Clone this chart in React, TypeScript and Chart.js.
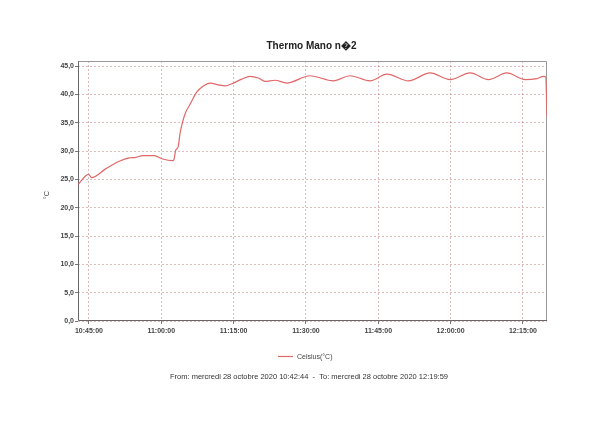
import React, { useEffect, useRef } from "react";
import { Chart, registerables } from "chart.js";

Chart.register(...registerables);

const chartTitle = "Thermo Mano n\uFFFD2";
const seriesLabel = "Celsius(°C)";
const yAxisTitle = "°C";
const footerText = "From: mercredi 28 octobre 2020 10:42:44  -  To: mercredi 28 octobre 2020 12:19:59";

const rangeStart = "10:42:44";
const rangeEnd = "12:19:59";
const xTickTimes = ["10:45:00", "11:00:00", "11:15:00", "11:30:00", "11:45:00", "12:00:00", "12:15:00"];
const yTickValues = [0, 5, 10, 15, 20, 25, 30, 35, 40, 45];
const yMax = 45.9;

const times = [
  "10:42:44", "10:44:56", "10:45:33", "10:48:31", "10:51:17", "10:53:21", "10:54:45", "10:56:08",
  "10:58:33", "11:00:17", "11:02:22", "11:02:38", "11:02:59", "11:03:31", "11:03:53", "11:04:14",
  "11:04:57", "11:06:00", "11:07:21", "11:08:43", "11:10:06", "11:11:49", "11:13:13", "11:14:56",
  "11:16:41", "11:18:24", "11:20:07", "11:21:31", "11:23:35", "11:26:01", "11:30:51", "11:35:41",
  "11:39:09", "11:43:18", "11:46:49", "11:51:15", "11:55:45", "11:59:54", "12:04:03", "12:07:51",
  "12:11:40", "12:15:28", "12:17:54", "12:19:16", "12:19:43", "12:19:59",
];
const celsius = [
  24.1, 25.9, 25.3, 26.9, 28.2, 28.8, 28.9, 29.2,
  29.2, 28.6, 28.3, 28.5, 30.1, 30.8, 33.1, 34.5,
  36.6, 38.3, 40.4, 41.5, 42.0, 41.7, 41.5, 42.0,
  42.7, 43.2, 42.9, 42.3, 42.5, 42.0, 43.3, 42.4,
  43.3, 42.4, 43.6, 42.4, 43.8, 42.6, 43.8, 42.6,
  43.8, 42.6, 42.8, 43.2, 43.1, 36.0,
];

const toSec = (t: string) => {
  const [h, m, s] = t.split(":").map(Number);
  return h * 3600 + m * 60 + s;
};
const pad = (n: number) => String(n).padStart(2, "0");
const fmt = (sec: number) =>
  `${pad(Math.floor(sec / 3600))}:${pad(Math.floor((sec % 3600) / 60))}:${pad(Math.round(sec % 60))}`;

const LINE_COLOR = "#e06868";
const GRID_COLOR = "rgba(190,120,120,0.5)";
const TEXT_COLOR = "#444";
const AXIS_COLOR = "#666";

const decorPlugin = {
  id: "decor",
  beforeDatasetsDraw(chart: any) {
    const { ctx, chartArea: a } = chart;
    ctx.save();
    ctx.setLineDash([]);
    ctx.lineWidth = 1;
    ctx.strokeStyle = "#999";
    ctx.beginPath();
    ctx.moveTo(a.left, a.top + 0.5);
    ctx.lineTo(a.right - 0.5, a.top + 0.5);
    ctx.lineTo(a.right - 0.5, a.bottom);
    ctx.stroke();
    ctx.strokeStyle = AXIS_COLOR;
    ctx.beginPath();
    ctx.moveTo(a.left + 0.5, a.top);
    ctx.lineTo(a.left + 0.5, a.bottom - 0.5);
    ctx.lineTo(a.right, a.bottom - 0.5);
    ctx.stroke();
    ctx.restore();
  },
  afterDraw(chart: any) {
    const { ctx, chartArea: a } = chart;
    ctx.save();
    const cx = (a.left + a.right) / 2;
    ctx.fillStyle = "#222";
    ctx.font = 'bold 10px "Liberation Sans", Arial, sans-serif';
    ctx.textAlign = "center";
    ctx.textBaseline = "middle";
    ctx.fillText(chartTitle, cx - 1, 46);

    ctx.save();
    ctx.translate(47, (a.top + a.bottom) / 2 + 4);
    ctx.rotate(-Math.PI / 2);
    ctx.font = '7.5px "Liberation Sans", Arial, sans-serif';
    ctx.fillStyle = TEXT_COLOR;
    ctx.fillText(yAxisTitle, 0, 0);
    ctx.restore();

    ctx.strokeStyle = LINE_COLOR;
    ctx.lineWidth = 1.2;
    ctx.beginPath();
    ctx.moveTo(278, 356.5);
    ctx.lineTo(293, 356.5);
    ctx.stroke();
    ctx.font = '7px "Liberation Sans", Arial, sans-serif';
    ctx.fillStyle = TEXT_COLOR;
    ctx.textAlign = "left";
    ctx.fillText(seriesLabel, 297, 357);

    ctx.font = '7.5px "Liberation Sans", Arial, sans-serif';
    ctx.fillStyle = "#333";
    ctx.textAlign = "center";
    ctx.fillText(footerText, 309, 377);
    ctx.restore();
  },
};

export default function App() {
  const ref = useRef<HTMLCanvasElement>(null);
  useEffect(() => {
    if (!ref.current) return;
    const data = times.map((t, i) => ({ x: toSec(t), y: celsius[i] }));
    const tickFont = { family: '"Liberation Sans", Arial, sans-serif', size: 7, weight: "bold" as const };
    const gridOpts = {
      color: GRID_COLOR,
      tickColor: "#777",
      tickBorderDash: [],
      tickLength: 3,
      drawTicks: true,
    };
    const chart = new Chart(ref.current, {
      type: "line",
      data: {
        datasets: [
          {
            label: seriesLabel,
            data,
            borderColor: LINE_COLOR,
            borderWidth: 1.2,
            pointRadius: 0,
            fill: false,
            cubicInterpolationMode: "monotone",
          },
        ],
      },
      options: {
        responsive: false,
        animation: false,
        devicePixelRatio: 1,
        layout: { padding: { top: 61, right: 53, left: 0, bottom: 83 } },
        plugins: { legend: { display: false }, title: { display: false }, tooltip: { enabled: false } },
        scales: {
          x: {
            type: "linear",
            min: toSec(rangeStart),
            max: toSec(rangeEnd),
            afterBuildTicks: (scale: any) => {
              scale.ticks = xTickTimes.map((t) => ({ value: toSec(t) }));
            },
            afterFit: (scale: any) => {
              scale.height = 20;
            },
            ticks: {
              autoSkip: false,
              maxRotation: 0,
              padding: 3,
              color: TEXT_COLOR,
              font: tickFont,
              callback: (v: any) => fmt(Number(v)),
            },
            grid: gridOpts,
            border: { display: false, dash: [2, 2] },
          },
          y: {
            type: "linear",
            min: 0,
            max: yMax,
            afterBuildTicks: (scale: any) => {
              scale.ticks = yTickValues.map((v) => ({ value: v }));
            },
            afterFit: (scale: any) => {
              scale.width = 78;
            },
            ticks: {
              padding: 1,
              color: TEXT_COLOR,
              font: tickFont,
              callback: (v: any) => Number(v).toFixed(1).replace(".", ","),
            },
            grid: gridOpts,
            border: { display: false, dash: [2, 2] },
          },
        },
      },
      plugins: [decorPlugin],
    });
    return () => chart.destroy();
  }, []);
  return (
    <div style={{ position: "absolute", left: 0, top: 0, width: 600, height: 424, background: "#fff" }}>
      <canvas ref={ref} width={600} height={424} />
    </div>
  );
}
